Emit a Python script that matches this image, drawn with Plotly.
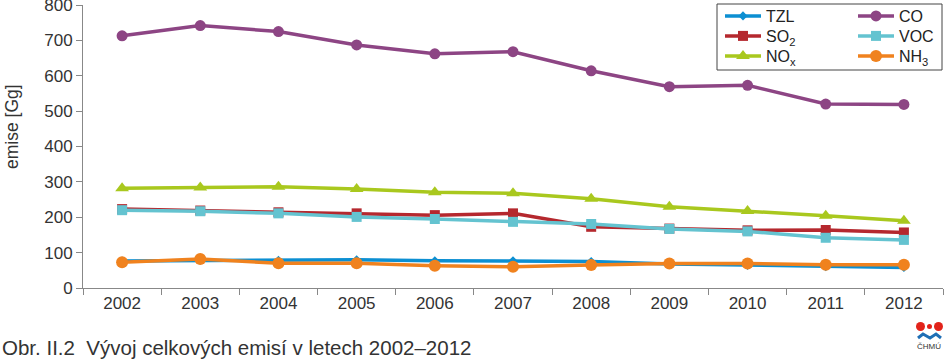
import plotly.graph_objects as go

years = ["2002", "2003", "2004", "2005", "2006", "2007", "2008", "2009", "2010", "2011", "2012"]
tzl = [76, 78, 78, 80, 77, 77, 75, 68, 64, 60, 58]
so2 = [223, 219, 214, 211, 206, 211, 173, 168, 163, 164, 157]
nox = [282, 284, 286, 280, 271, 268, 252, 230, 218, 204, 190]
co = [713, 742, 725, 687, 662, 668, 614, 569, 573, 520, 519]
voc = [220, 217, 211, 201, 195, 187, 181, 167, 160, 142, 136]
nh3 = [73, 82, 70, 70, 63, 60, 65, 69, 69, 66, 66]
y_ticks = [0, 100, 200, 300, 400, 500, 600, 700, 800]

W, H = 945, 360
L, R, T, B = 83, 2, 5, 72
PW, PH = W - L - R, H - T - B


def px(x):
    return (x - L) / PW


def py(y):
    return (H - B - y) / PH


FONT = "Liberation Sans, Arial, sans-serif"

# name, values, colour, symbol, size, legend id, legend column x (px), row y (px)
series = [
    ("TZL", tzl, "#0c8fd2", "diamond", 7, "legend", 720, 16),
    ("SO<sub>2</sub>", so2, "#b5282e", "square", 10, "legend2", 720, 36),
    ("NO<sub>x</sub>", nox, "#a9c81e", "triangle-up", 12, "legend3", 720, 56),
    ("CO", co, "#8d4584", "circle", 11, "legend4", 853, 16),
    ("VOC", voc, "#64c3d0", "square", 10, "legend5", 853, 36),
    ("NH<sub>3</sub>", nh3, "#f0821e", "circle", 12, "legend6", 853, 56),
]

fig = go.Figure()
legends = {}
for name, vals, color, sym, size, leg, lx, ly in series:
    fig.add_trace(go.Scatter(
        x=years, y=vals, name=name, mode="lines+markers",
        line=dict(color=color, width=3.5),
        marker=dict(color=color, symbol=sym, size=size, line=dict(width=0)),
        legend=leg, cliponaxis=False,
    ))
    legends[leg] = dict(
        bgcolor="rgba(0,0,0,0)", borderwidth=0,
        font=dict(family=FONT, size=16, color="#222"),
        orientation="v", tracegroupgap=0, itemwidth=36,
        x=px(lx), y=py(ly), xanchor="left", yanchor="middle",
    )

fig.update_layout(
    width=W, height=H,
    margin=dict(l=L, r=R, t=T, b=B, autoexpand=False),
    paper_bgcolor="white", plot_bgcolor="white",
    font=dict(family=FONT, size=17, color="#333"),
    showlegend=True,
    xaxis=dict(
        type="category", showgrid=False, showline=True, linecolor="#888", linewidth=1,
        ticks="outside", ticklen=6, tickcolor="#888", tickson="boundaries",
        tickfont=dict(family=FONT, size=17, color="#333"), range=[-0.5, 10.5],
        automargin=False,
    ),
    yaxis=dict(
        range=[0, 800], tickvals=y_ticks, showgrid=False, showline=True,
        linecolor="#888", linewidth=1, ticks="outside", ticklen=6, tickcolor="#888",
        tickfont=dict(family=FONT, size=17, color="#333"), zeroline=False,
        automargin=False, ticklabeloverflow="allow",
    ),
    shapes=[
        dict(type="rect", xref="paper", yref="paper", x0=px(717), x1=px(942),
             y0=py(70), y1=py(4), line=dict(color="#444", width=1)),
        dict(type="circle", xref="paper", yref="paper", x0=px(916), x1=px(925),
             y0=py(331), y1=py(322), fillcolor="#e2231a", line=dict(width=0)),
        dict(type="circle", xref="paper", yref="paper", x0=px(934), x1=px(943),
             y0=py(331), y1=py(322), fillcolor="#e2231a", line=dict(width=0)),
        dict(type="circle", xref="paper", yref="paper", x0=px(927), x1=px(932),
             y0=py(329), y1=py(324), fillcolor="#e2231a", line=dict(width=0)),
        dict(type="path", xref="paper", yref="paper",
             path=f"M {px(918)} {py(338)} L {px(923)} {py(334)} L {px(930)} {py(338)} "
                  f"L {px(936)} {py(334)} L {px(941)} {py(338)}",
             line=dict(color="#1f6fb5", width=3)),
    ],
    annotations=[
        dict(text="emise [Gg]", xref="paper", yref="paper", x=px(12), y=py(127),
             textangle=-90, showarrow=False, xanchor="center", yanchor="middle",
             font=dict(family=FONT, size=17.5, color="#333")),
        dict(text="Obr. II.2  Vývoj celkových emisí v letech 2002–2012", xref="paper",
             yref="paper", x=px(0), y=py(347), showarrow=False, xanchor="left",
             yanchor="middle", font=dict(family=FONT, size=20.5, color="#333")),
        dict(text="ČHMÚ", xref="paper", yref="paper", x=px(929), y=py(346),
             showarrow=False, xanchor="center", yanchor="middle",
             font=dict(family=FONT, size=8, color="#333")),
    ],
    **legends,
)

fig.write_html(
    "out.html",
    config={"displayModeBar": False},
    post_script="document.body.style.margin='0';document.body.style.padding='0';"
                "document.body.style.overflow='hidden';",
)
